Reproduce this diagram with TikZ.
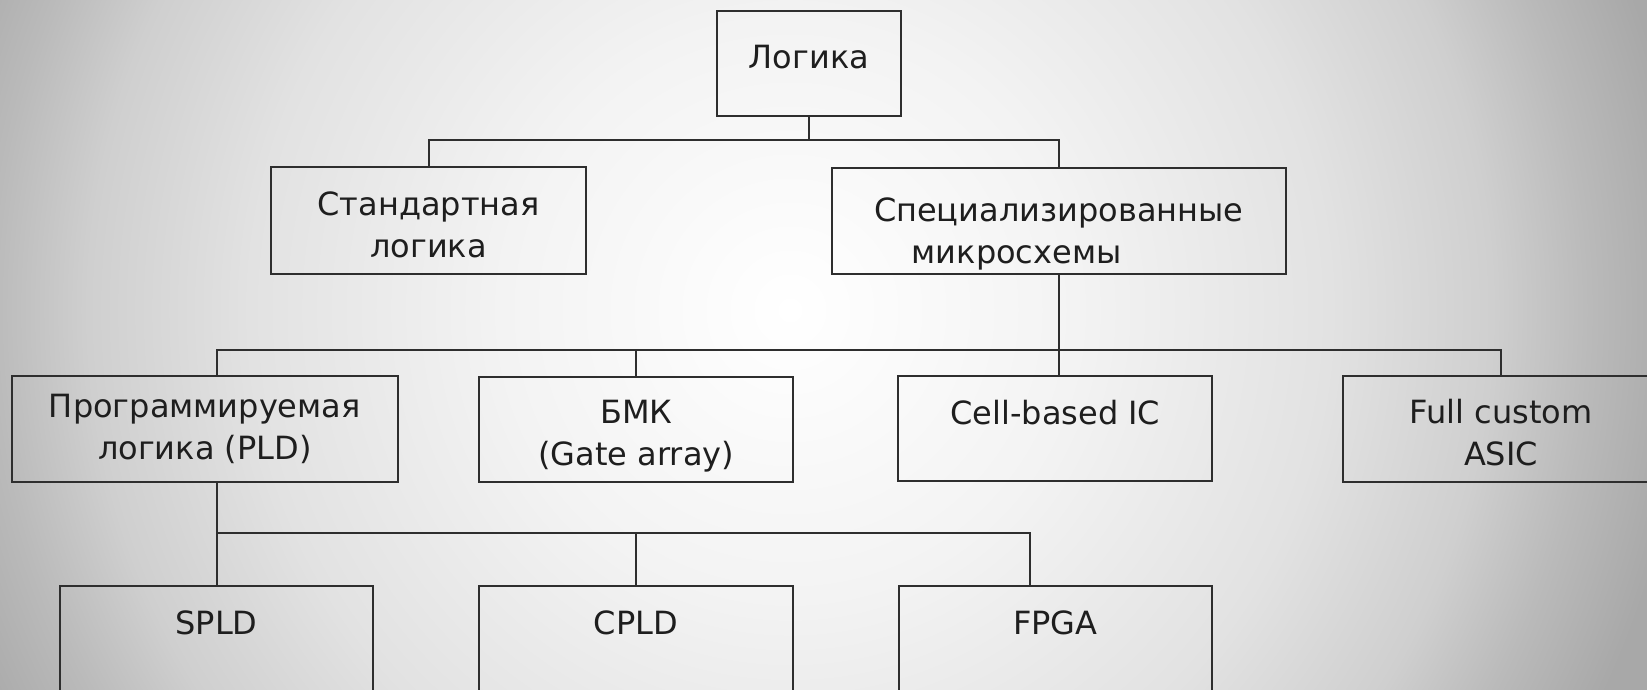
\documentclass[tikz,border=0pt]{standalone}
\usepackage{fontspec}
\setmainfont{DejaVu Sans}
\usepackage{tikz}
\definecolor{lineGray}{HTML}{2E2E2E}
\definecolor{textGray}{HTML}{1E1E1E}
\definecolor{bgOuter}{HTML}{A8A8A8}
\definecolor{bgA}{HTML}{F3F3F3}
\definecolor{bgB}{HTML}{E2E2E2}
\definecolor{bgC}{HTML}{CFCFCF}
\definecolor{bgD}{HTML}{BABABA}
\pgfdeclareradialshading{bgshade}{\pgfpoint{0bp}{0bp}}{color(0bp)=(white); color(8bp)=(bgA); color(15bp)=(bgB); color(19.5bp)=(bgC); color(22.2bp)=(bgD); color(25bp)=(bgOuter); color(50bp)=(bgOuter)}
\usetikzlibrary{calc}

\begin{document}
\begin{tikzpicture}[x=1pt, y=-1pt,
  box/.style = {draw = lineGray, line width = 2pt, align = center, text = textGray,
                font = \fontsize{32}{42}\selectfont, inner sep = 4pt},
  upper/.style = {text height = 24pt, text depth = 33pt},
  link/.style = {draw = lineGray, line width = 2pt}]

\useasboundingbox (0,0) rectangle (1647,689);
\clip (-4,-4) rectangle (1651,693);
\fill[bgOuter] (-4,-4) rectangle (1651,693);
\shade[shading = bgshade] (790,310) circle[radius = 900];

\node[box, minimum width = 184, minimum height = 105, text height = 24pt, text depth = 13pt] (logic) at (809,63) {Логика};
\node[box, minimum width = 315, minimum height = 107, text height = 74pt, text depth = 0pt] (std) at (428.5,220.7) {Стандартная\\логика};
\node[box, minimum width = 454, minimum height = 106, text height = 90pt, text depth = 6pt] (spec) at (1058.7,221.3) {Специализированные\\микросхемы\hspace*{84pt}};

\node[box, minimum width = 386, minimum height = 106] (pld) at (204.8,428.7) {Программируемая\\логика (PLD)};
\node[box, minimum width = 314, minimum height = 105, text height = 80pt, text depth = 8pt] (bmk) at (636.2,429.2) {БМК\\(Gate array)};
\node[box, upper, minimum width = 314, minimum height = 105] (cell) at (1055.3,428.9) {Cell-based IC};
\node[box, minimum width = 316, minimum height = 106, text height = 74pt, text depth = 0pt] (full) at (1501,428.7) {Full custom\\ASIC};

\node[box, upper, minimum width = 313, minimum height = 106] (spld) at (216.5,639) {SPLD};
\node[box, upper, minimum width = 314, minimum height = 106] (cpld) at (636,639) {CPLD};
\node[box, upper, minimum width = 313, minimum height = 106] (fpga) at (1055.4,639) {FPGA};

\coordinate (bus1) at (0,139.5);
\coordinate (bus2) at (0,349.5);
\coordinate (bus3) at (0,533);

\draw[link] (logic.south) -- (logic.south |- bus1);
\draw[link] (std.north) |- (bus1 -| spec.north) -- (spec.north);

\draw[link] (spec.south) -- (cell.north -| spec.south);
\draw[link] ([xshift=12pt]pld.north) |- (bus2 -| full.north) -- (full.north);
\draw[link] (bmk.north) -- (bmk.north |- bus2);

\draw[link] (pld.south -| spld.north) -- (spld.north);
\draw[link] (bus3 -| spld.north) -| ([xshift=-25pt]fpga.north);
\draw[link] (cpld.north) -- (cpld.north |- bus3);

\end{tikzpicture}
\end{document}
